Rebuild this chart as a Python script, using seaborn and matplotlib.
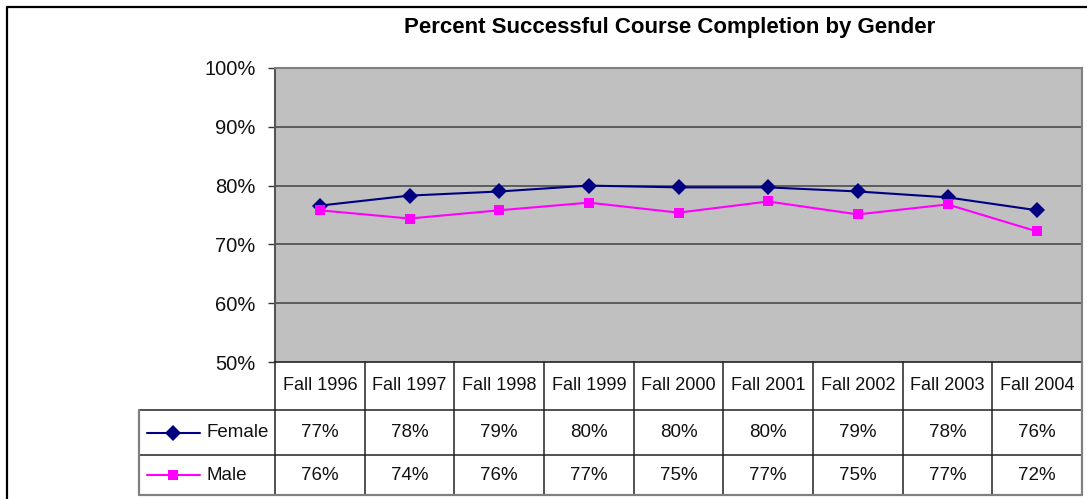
import matplotlib.pyplot as plt
import matplotlib.transforms as mtransforms
import seaborn as sns
import pandas as pd
from matplotlib.lines import Line2D

# data
terms = ["Fall 1996", "Fall 1997", "Fall 1998", "Fall 1999", "Fall 2000",
         "Fall 2001", "Fall 2002", "Fall 2003", "Fall 2004"]
female = [76.6, 78.3, 79.0, 80.0, 79.7, 79.7, 79.0, 78.0, 75.8]
male = [75.8, 74.4, 75.8, 77.1, 75.4, 77.3, 75.1, 76.8, 72.2]
y_ticks = [50, 60, 70, 80, 90, 100]

colors = {"Female": "#000080", "Male": "#FF00FF"}
markers = {"Female": "D", "Male": "s"}

df = pd.DataFrame({
    "term": terms * 2,
    "pct": female + male,
    "gender": ["Female"] * len(terms) + ["Male"] * len(terms),
})

sns.set_style("white")
plt.rcParams["font.family"] = ["Liberation Sans", "DejaVu Sans"]
narrow = ["Liberation Sans Narrow", "Liberation Sans", "DejaVu Sans"]

W, H = 1087, 499
fig = plt.figure(figsize=(W / 100, H / 100), dpi=100)
fig.patch.set_facecolor("white")

# plot area in pixels
L, R, T, B = 275, 1082, 68, 362
ax = fig.add_axes([L / W, (H - B) / H, (R - L) / W, (B - T) / H])
ax.set_facecolor("#C0C0C0")

sns.lineplot(data=df, x="term", y="pct", hue="gender", style="gender",
             palette=colors, markers=markers, dashes=False, linewidth=1.5,
             markersize=8, markeredgewidth=0, sort=False, legend=False, ax=ax)
for ln in ax.lines:
    if ln.get_marker() == "D":
        ln.set_markersize(8.5)
    else:
        ln.set_markersize(7.5)

ax.set_xlim(-0.5, len(terms) - 0.5)
ax.set_ylim(50, 100)
ax.set_yticks(y_ticks)
ax.set_yticklabels([f"{t}%" for t in y_ticks], fontsize=14.5, color="#111111")
ax.set_xticks([])
ax.set_xlabel("")
ax.set_ylabel("")
ax.tick_params(axis="y", length=5, width=1, color="#333333", pad=9, left=True)
for y in y_ticks[1:-1]:
    ax.axhline(y, color="#555555", lw=1.3, zorder=1)
ax.spines["left"].set_color("#555555")
ax.spines["left"].set_linewidth(1.5)
ax.spines["top"].set_color("#808080")
ax.spines["top"].set_linewidth(1.5)
ax.spines["right"].set_color("#808080")
ax.spines["right"].set_linewidth(1.5)
ax.spines["bottom"].set_color("#222222")
ax.spines["bottom"].set_linewidth(1.2)

fig.text(670 / W, 1 - 28 / H, "Percent Successful Course Completion by Gender",
         ha="center", va="center", fontsize=16, fontweight="bold", color="black")

# overlay in pixel coordinates for the frame and data table
ov = fig.add_axes([0, 0, 1, 1], zorder=5)
ov.set_xlim(0, W)
ov.set_ylim(H, 0)
ov.axis("off")
ov.patch.set_alpha(0)
bt = mtransforms.blended_transform_factory(ax.transData, ov.transData)

# outer chart frame
ov.plot([7, 7], [7, H], color="black", lw=1.6)
ov.plot([7, W], [7, 7], color="black", lw=1.6)

row_y = [B, 410, 455, 495]
n = len(terms)
lc = "#222222"
# header row
for k in range(n + 1):
    ov.plot([k - 0.5, k - 0.5], [row_y[0], row_y[3]], color=lc, lw=1.1, transform=bt)
for i, t in enumerate(terms):
    ov.text(i, (row_y[0] + row_y[1]) / 2, t, transform=bt, ha="center", va="center",
            fontsize=13, family=narrow, color="#111111")
# body rows
ov.plot([139, R], [row_y[1], row_y[1]], color=lc, lw=1.1)
ov.plot([139, R], [row_y[2], row_y[2]], color=lc, lw=1.1)
ov.plot([139, R], [row_y[3], row_y[3]], color="#808080", lw=1.6)
ov.plot([139, 139], [row_y[1], row_y[3]], color="#808080", lw=1.6)
ov.plot([R, R], [row_y[0], row_y[3]], color="#808080", lw=1.6)

for r, (name, vals) in enumerate([("Female", female), ("Male", male)]):
    yc = (row_y[r + 1] + row_y[r + 2]) / 2
    ov.add_line(Line2D([147, 200], [yc, yc], color=colors[name], lw=1.5))
    ov.add_line(Line2D([173], [yc], marker=markers[name], color=colors[name],
                       markersize=8.5 if name == "Female" else 7.5, markeredgewidth=0))
    ov.text(206, yc, name, ha="left", va="center", fontsize=13.5, family=narrow, color="#111111")
    for i, v in enumerate(vals):
        ov.text(i, yc, f"{v:.0f}%", transform=bt, ha="center", va="center",
                fontsize=13.5, family=narrow, color="#111111")

fig.savefig("out.png", dpi=100)
